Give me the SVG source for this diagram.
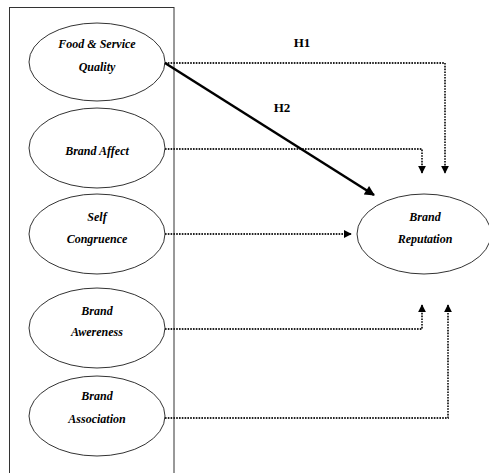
<svg xmlns="http://www.w3.org/2000/svg" width="489" height="473" viewBox="0 0 489 473">
<style>
.node ellipse{fill:#fff;stroke:#333;stroke-width:1}
.t{font-family:"Liberation Serif",serif;font-weight:bold;font-style:italic;font-size:12px;text-anchor:middle;fill:#000}
.h{font-family:"Liberation Serif",serif;font-weight:bold;font-size:13px;text-anchor:middle;fill:#000}
.d{fill:none;stroke:#222;stroke-width:1.8;stroke-dasharray:1.6,1.2;marker-end:url(#ah)}
</style>
<defs>
<marker id="ah" viewBox="0 0 10 10" refX="9" refY="5" markerWidth="8" markerHeight="8" markerUnits="userSpaceOnUse" orient="auto">
<path d="M0,0 L10,5 L0,10 z" fill="#000"/>
</marker>
<marker id="ah2" viewBox="0 0 10 10" refX="9" refY="5" markerWidth="12" markerHeight="10" markerUnits="userSpaceOnUse" orient="auto">
<path d="M0,0 L10,5 L0,10 z" fill="#000"/>
</marker>
</defs>
<rect x="9.5" y="7.5" width="164.5" height="470" fill="none" stroke="#333" stroke-width="1"/>
<g id="food" class="node"><ellipse cx="97" cy="62" rx="68" ry="39"/><text class="t" x="97" y="48">Food &amp; Service</text><text class="t" x="97" y="71">Quality</text></g>
<g id="affect" class="node"><ellipse cx="97" cy="148" rx="68" ry="40"/><text class="t" x="97" y="155">Brand Affect</text></g>
<g id="self" class="node"><ellipse cx="97" cy="234" rx="68" ry="40"/><text class="t" x="97" y="221">Self</text><text class="t" x="97" y="243">Congruence</text></g>
<g id="awareness" class="node"><ellipse cx="97" cy="328" rx="68" ry="40"/><text class="t" x="97" y="315">Brand</text><text class="t" x="97" y="336">Awereness</text></g>
<g id="association" class="node"><ellipse cx="97" cy="416" rx="68" ry="40"/><text class="t" x="97" y="400">Brand</text><text class="t" x="97" y="423">Association</text></g>
<g id="reputation" class="node"><ellipse cx="424" cy="234" rx="67" ry="40"/><text class="t" x="425" y="221">Brand</text><text class="t" x="425" y="243">Reputation</text></g>
<g id="connectors">
<path class="d" d="M165,63 H445 V173"/>
<path class="d" d="M165,149 H422 V173"/>
<path class="d" d="M165,234 H351"/>
<path class="d" d="M165,329 H422 V305"/>
<path class="d" d="M165,418 H448 V305"/>
<path d="M165,63 L374,195" stroke="#000" stroke-width="2.5" fill="none" marker-end="url(#ah2)"/>
<text class="h" x="302" y="47">H1</text>
<text class="h" x="282" y="112">H2</text>
</g>
</svg>
